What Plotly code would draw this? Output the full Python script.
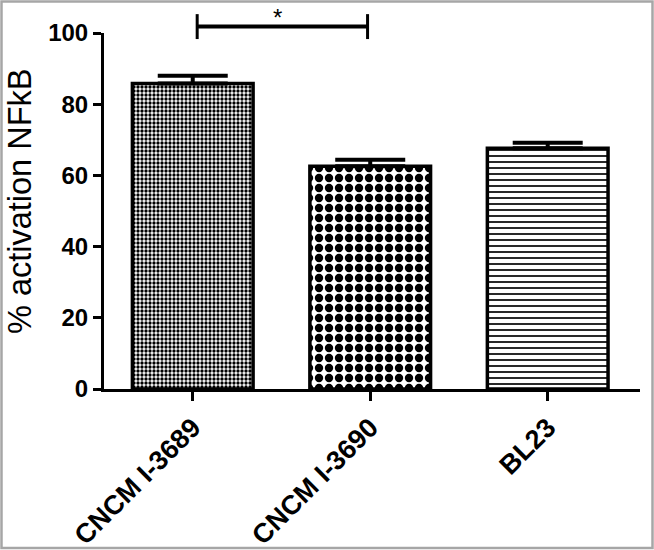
import plotly.graph_objects as go

# ---- data ----
categories = ["CNCM I-3689", "CNCM I-3690", "BL23"]
values = [85.8, 62.6, 67.6]
errors_up = [2.2, 1.8, 1.6]
errors_down = [0, 0, 0]
y_ticks = [0, 20, 40, 60, 80, 100]
y_title = "% activation NFkB"
sig_from, sig_to = 0.025, 0.985   # bracket between bar 1 and bar 2
sig_level = 101.8                  # bracket height (data units)
sig_half = 3.5                     # bracket end-tick half length
sig_label = "*"

# ---- styles ----
pattern_shapes = [".", ".", "-"]
pattern_sizes = [4, 10, 6]
pattern_solidity = [0.55, 0.55, 0.28]
FONT = "Arial, Liberation Sans, Helvetica, sans-serif"

W, H = 654, 550
L, R, T, B = 104, 14, 33, 161

x = list(range(len(categories)))

fig = go.Figure()
fig.add_trace(go.Bar(
    x=x, y=values, width=0.68,
    marker=dict(
        color="white",
        line=dict(color="black", width=3.5),
        pattern=dict(shape=pattern_shapes, size=pattern_sizes,
                     solidity=pattern_solidity, fgcolor="black",
                     bgcolor="white", fillmode="replace"),
    ),
    error_y=dict(type="data", symmetric=False, array=errors_up,
                 arrayminus=errors_down, color="black", thickness=4, width=35),
    showlegend=False,
    hoverinfo="skip",
))

shapes = []
to_paper = lambda v: v / 100.0
shapes.append(dict(type="line", xref="x", yref="paper",
                   x0=sig_from, x1=sig_to, y0=to_paper(sig_level), y1=to_paper(sig_level),
                   line=dict(color="black", width=4)))
for xv in (sig_from, sig_to):
    shapes.append(dict(type="line", xref="x", yref="paper",
                       x0=xv, x1=xv, y0=to_paper(sig_level - sig_half),
                       y1=to_paper(sig_level + sig_half),
                       line=dict(color="black", width=3)))
# outer grey frame
pw, ph = W - L - R, H - T - B
shapes.append(dict(type="rect", xref="paper", yref="paper",
                   x0=(1.5 - L) / pw, x1=(652.5 - L) / pw,
                   y0=(H - B - 548) / ph, y1=(H - B - 1.5) / ph,
                   line=dict(color="#a6a6a6", width=2.5), fillcolor="rgba(0,0,0,0)"))

annotations = [
    dict(text=sig_label, xref="x", yref="paper", x=(sig_from + sig_to) / 2 - 0.03,
         y=1 + (T - 18) / ph, showarrow=False, yanchor="middle",
         font=dict(family=FONT, size=24, color="black")),
    dict(text=y_title, xref="paper", yref="y", x=0, xshift=-84, y=52.8,
         textangle=-90, showarrow=False, xanchor="center", yanchor="middle",
         font=dict(family=FONT, size=32.5, color="black")),
]

fig.update_layout(
    width=W, height=H,
    margin=dict(l=L, r=R, t=T, b=B, pad=0, autoexpand=False),
    paper_bgcolor="white", plot_bgcolor="white",
    shapes=shapes, annotations=annotations,
    xaxis=dict(range=[-0.5, 2.52], tickmode="array", tickvals=x, ticktext=categories,
               tickangle=-45, showline=True, linecolor="black", linewidth=3,
               ticks="outside", ticklen=9, tickwidth=2.5, tickcolor="black",
               showgrid=False, zeroline=False, automargin=False,
               tickfont=dict(family=FONT, size=27, color="black", weight="bold")),
    yaxis=dict(range=[0, 100], tickmode="array", tickvals=y_ticks,
               showline=True, linecolor="black", linewidth=3,
               ticks="outside", ticklen=8, tickwidth=2.5, tickcolor="black",
               showgrid=False, zeroline=False, automargin=False,
               tickfont=dict(family=FONT, size=24, color="black", weight="bold")),
)

fig.write_html("out.html", config={"displayModeBar": False},
               post_script="document.body.style.margin='0';document.body.style.overflow='hidden';")
